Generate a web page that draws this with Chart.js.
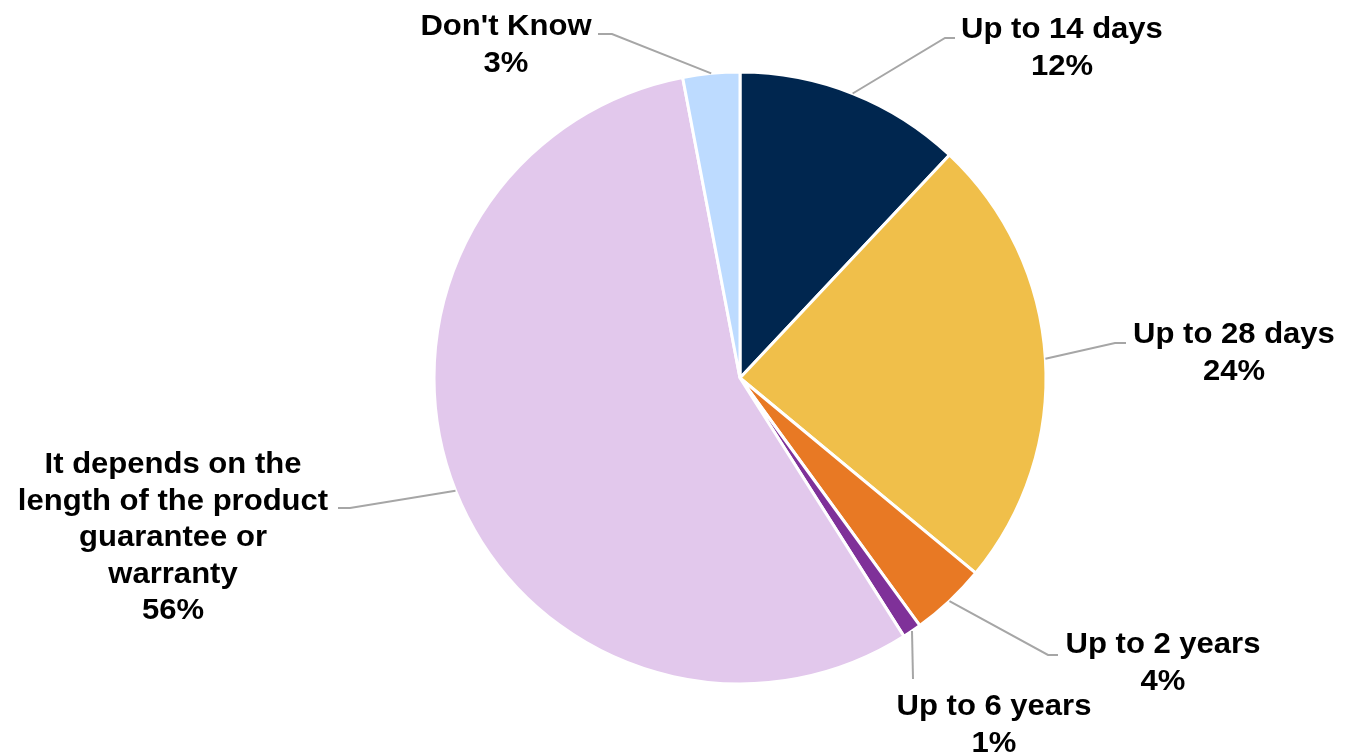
<!DOCTYPE html>
<html>
<head>
<meta charset="utf-8">
<script src="https://cdn.jsdelivr.net/npm/chart.js@4/dist/chart.umd.min.js"></script>
<style>
  html, body { margin: 0; padding: 0; background: #ffffff; }
  #wrap { width: 1345px; height: 752px; }
</style>
</head>
<body>
<div id="wrap"><canvas id="c" width="1345" height="752"></canvas></div>
<script>
// Survey answers, clockwise from 12 o'clock
const categories = [
  ['Up to 14 days'],
  ['Up to 28 days'],
  ['Up to 2 years'],
  ['Up to 6 years'],
  ['It depends on the', 'length of the product', 'guarantee or', 'warranty'],
  ["Don't Know"]
];
const shares = [12, 24, 4, 1, 56, 3];
const sliceColors = ['#00264F', '#F0BF4A', '#E87924', '#7F3199', '#E2C8EC', '#BDDBFF'];

// Callout placement: elbow of the leader line, where it meets the text, text centre and first baseline
const callouts = [
  { elbow: [945, 38],  end: [955, 38],  cx: 1062, y: 38 },
  { elbow: [1115, 343], end: [1126, 343], cx: 1234, y: 343 },
  { elbow: [1048, 655], end: [1058, 655], cx: 1163, y: 653 },
  { elbow: [913, 679], end: [913, 679], cx: 994, y: 715 },
  { elbow: [350, 508], end: [338, 508], cx: 173, y: 473 },
  { elbow: [612, 34],  end: [598, 34],  cx: 506, y: 35 }
];

const LINE_H = 36.5;
const FONT = 'bold 29px "Liberation Sans", Arial, sans-serif';
const X_STRETCH = 1.07;

const calloutPlugin = {
  id: 'callouts',
  afterDatasetsDraw(chart) {
    const ctx = chart.ctx;
    const meta = chart.getDatasetMeta(0);
    meta.data.forEach((arc, i) => {
      const c = callouts[i];
      const mid = (arc.startAngle + arc.endAngle) / 2;
      const sx = arc.x + Math.cos(mid) * arc.outerRadius;
      const sy = arc.y + Math.sin(mid) * arc.outerRadius;
      ctx.save();
      ctx.strokeStyle = '#A6A6A6';
      ctx.lineWidth = 2;
      ctx.beginPath();
      ctx.moveTo(sx, sy);
      ctx.lineTo(c.elbow[0], c.elbow[1]);
      ctx.lineTo(c.end[0], c.end[1]);
      ctx.stroke();

      const lines = categories[i].concat([shares[i] + '%']);
      ctx.fillStyle = '#000000';
      ctx.font = FONT;
      ctx.textAlign = 'center';
      ctx.textBaseline = 'alphabetic';
      lines.forEach((t, k) => {
        ctx.save();
        ctx.translate(c.cx, c.y + k * LINE_H);
        ctx.scale(X_STRETCH, 1);
        ctx.fillText(t, 0, 0);
        ctx.restore();
      });
      ctx.restore();
    });
  }
};

new Chart(document.getElementById('c'), {
  type: 'pie',
  data: {
    labels: categories.map(l => l.join(' ')),
    datasets: [{
      data: shares,
      backgroundColor: sliceColors,
      borderColor: '#ffffff',
      borderWidth: 3
    }]
  },
  options: {
    responsive: false,
    animation: false,
    layout: { padding: { top: 70.5, bottom: 66.5, left: 432.5, right: 297.5 } },
    plugins: {
      legend: { display: false },
      tooltip: { enabled: false }
    }
  },
  plugins: [calloutPlugin]
});
</script>
</body>
</html>
